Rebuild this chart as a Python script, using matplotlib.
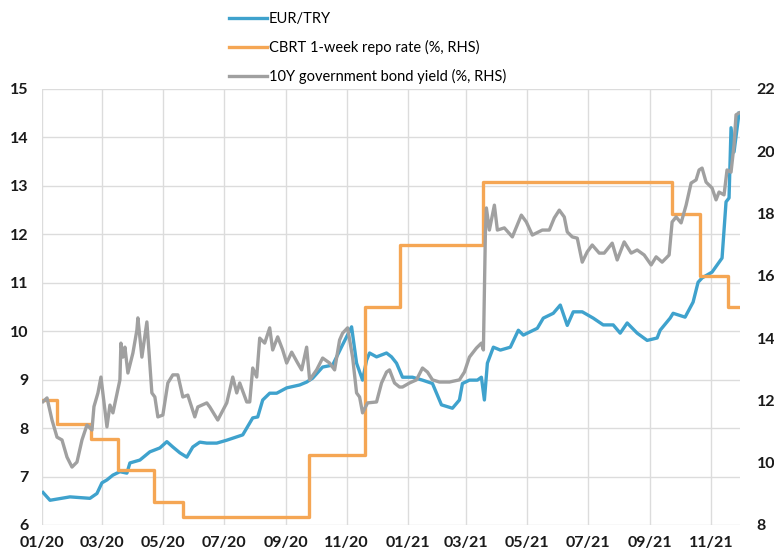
import matplotlib
matplotlib.use("Agg")
import matplotlib.pyplot as plt
import matplotlib.dates as mdates
import pandas as pd

plt.rcParams["font.family"] = ["Lato", "DejaVu Sans"]

# EUR/TRY (left axis)
eur_dates = ["2020-01-02", "2020-01-09", "2020-01-29", "2020-02-18", "2020-02-25",
             "2020-03-01", "2020-03-06", "2020-03-12", "2020-03-19", "2020-03-26",
             "2020-03-29", "2020-04-08", "2020-04-18", "2020-04-28", "2020-05-05",
             "2020-05-11", "2020-05-18", "2020-05-25", "2020-05-31", "2020-06-07",
             "2020-06-14", "2020-06-24", "2020-07-04", "2020-07-20", "2020-07-30",
             "2020-08-04", "2020-08-09", "2020-08-16", "2020-08-23", "2020-09-02",
             "2020-09-15", "2020-09-22", "2020-09-28", "2020-10-08", "2020-10-18",
             "2020-10-28", "2020-11-06", "2020-11-11", "2020-11-17", "2020-11-21",
             "2020-11-24", "2020-12-01", "2020-12-11", "2020-12-16", "2020-12-21",
             "2020-12-27", "2021-01-06", "2021-01-16", "2021-01-26", "2021-02-04",
             "2021-02-15", "2021-02-22", "2021-02-25", "2021-03-04", "2021-03-12",
             "2021-03-16", "2021-03-19", "2021-03-22", "2021-03-28", "2021-04-04",
             "2021-04-14", "2021-04-22", "2021-04-27", "2021-05-11", "2021-05-17",
             "2021-05-27", "2021-06-03", "2021-06-10", "2021-06-16", "2021-06-25",
             "2021-07-06", "2021-07-16", "2021-07-26", "2021-08-02", "2021-08-09",
             "2021-08-19", "2021-08-29", "2021-09-08", "2021-09-11", "2021-09-21",
             "2021-09-24", "2021-10-06", "2021-10-14", "2021-10-19", "2021-10-23",
             "2021-11-02", "2021-11-12", "2021-11-16", "2021-11-19", "2021-11-21",
             "2021-11-24", "2021-11-29"]
eur_try = [6.67, 6.51, 6.58, 6.55, 6.65,
           6.87, 6.93, 7.03, 7.10, 7.07,
           7.28, 7.34, 7.51, 7.59, 7.72,
           7.61, 7.49, 7.40, 7.61, 7.71,
           7.69, 7.69, 7.75, 7.86, 8.21,
           8.23, 8.58, 8.72, 8.72, 8.83,
           8.89, 8.95, 9.03, 9.26, 9.30,
           9.72, 10.09, 9.34, 8.99, 9.40,
           9.55, 9.47, 9.55, 9.47, 9.34,
           9.05, 9.05, 8.99, 8.92, 8.48,
           8.41, 8.58, 8.92, 8.99, 8.99,
           9.05, 8.58, 9.34, 9.67, 9.61,
           9.67, 10.02, 9.92, 10.06, 10.27,
           10.37, 10.54, 10.12, 10.40, 10.40,
           10.27, 10.13, 10.13, 9.96, 10.17,
           9.96, 9.81, 9.86, 10.02, 10.27,
           10.37, 10.29, 10.60, 11.01, 11.10,
           11.22, 11.51, 12.67, 12.75, 14.20,
           13.70, 14.50]

# CBRT 1-week repo rate (right axis)
repo_dates = ["2020-01-01", "2020-01-16", "2020-02-19", "2020-03-17", "2020-04-22",
              "2020-05-21", "2020-09-24", "2020-11-19", "2020-12-24", "2021-03-18",
              "2021-09-23", "2021-10-21", "2021-11-18", "2021-11-30"]
repo_rate = [12.0, 11.25, 10.75, 9.75, 8.75,
             8.25, 10.25, 15.0, 17.0, 19.0,
             18.0, 16.0, 15.0, 15.0]

# 10Y government bond yield (right axis)
bond_dates = ["2020-01-02", "2020-01-06", "2020-01-11", "2020-01-16", "2020-01-21",
              "2020-01-26", "2020-01-31", "2020-02-05", "2020-02-10", "2020-02-15",
              "2020-02-20", "2020-02-22", "2020-02-26", "2020-02-29", "2020-03-06",
              "2020-03-09", "2020-03-12", "2020-03-19", "2020-03-20", "2020-03-22",
              "2020-03-24", "2020-03-27", "2020-04-01", "2020-04-05", "2020-04-06",
              "2020-04-10", "2020-04-15", "2020-04-20", "2020-04-23", "2020-04-26",
              "2020-05-01", "2020-05-06", "2020-05-11", "2020-05-16", "2020-05-21",
              "2020-05-26", "2020-06-02", "2020-06-05", "2020-06-14", "2020-06-17",
              "2020-06-25", "2020-07-04", "2020-07-10", "2020-07-14", "2020-07-17",
              "2020-07-24", "2020-07-27", "2020-07-30", "2020-08-03", "2020-08-06",
              "2020-08-11", "2020-08-16", "2020-08-19", "2020-08-24", "2020-08-29",
              "2020-09-02", "2020-09-07", "2020-09-13", "2020-09-17", "2020-09-22",
              "2020-09-25", "2020-10-02", "2020-10-08", "2020-10-15", "2020-10-20",
              "2020-10-25", "2020-10-28", "2020-11-02", "2020-11-07", "2020-11-11",
              "2020-11-14", "2020-11-17", "2020-11-22", "2020-12-01", "2020-12-06",
              "2020-12-11", "2020-12-14", "2020-12-19", "2020-12-24", "2020-12-27",
              "2021-01-03", "2021-01-10", "2021-01-16", "2021-01-21", "2021-01-26",
              "2021-02-02", "2021-02-12", "2021-02-22", "2021-02-27", "2021-03-04",
              "2021-03-11", "2021-03-16", "2021-03-18", "2021-03-20", "2021-03-21",
              "2021-03-24", "2021-03-29", "2021-04-01", "2021-04-08", "2021-04-16",
              "2021-04-25", "2021-04-30", "2021-05-06", "2021-05-16", "2021-05-23",
              "2021-05-28", "2021-06-02", "2021-06-07", "2021-06-10", "2021-06-15",
              "2021-06-20", "2021-06-25", "2021-06-30", "2021-07-05", "2021-07-12",
              "2021-07-17", "2021-07-25", "2021-07-30", "2021-08-06", "2021-08-13",
              "2021-08-19", "2021-08-26", "2021-09-02", "2021-09-07", "2021-09-13",
              "2021-09-20", "2021-09-23", "2021-09-27", "2021-10-02", "2021-10-07",
              "2021-10-12", "2021-10-17", "2021-10-20", "2021-10-23", "2021-10-27",
              "2021-11-02", "2021-11-06", "2021-11-09", "2021-11-14", "2021-11-17",
              "2021-11-21", "2021-11-24", "2021-11-26", "2021-11-29"]
bond_yield = [11.96, 12.08, 11.37, 10.82, 10.73,
              10.18, 9.86, 10.02, 10.73, 11.21,
              11.05, 11.80, 12.24, 12.75, 11.15,
              11.85, 11.60, 12.66, 13.84, 13.39,
              13.71, 12.88, 13.52, 14.26, 14.65,
              13.39, 14.52, 12.24, 12.11, 11.47,
              11.53, 12.56, 12.82, 12.82, 12.11,
              12.17, 11.47, 11.79, 11.92, 11.79,
              11.37, 11.92, 12.75, 12.24, 12.56,
              11.95, 11.95, 13.04, 12.75, 14.00,
              13.84, 14.33, 13.62, 14.04, 13.62,
              13.20, 13.55, 13.20, 12.98, 13.71,
              12.66, 12.98, 13.36, 13.20, 12.98,
              13.94, 14.16, 14.33, 13.39, 12.24,
              12.11, 11.60, 11.92, 11.95, 12.56,
              12.91, 12.98, 12.56, 12.43, 12.43,
              12.56, 12.66, 13.04, 12.91, 12.66,
              12.59, 12.59, 12.66, 12.91, 13.39,
              13.68, 13.84, 13.62, 17.38, 18.18,
              17.47, 18.27, 17.47, 17.54, 17.25,
              17.95, 17.73, 17.31, 17.47, 17.47,
              17.86, 18.11, 17.89, 17.41, 17.25,
              17.21, 16.44, 16.77, 16.99, 16.73,
              16.73, 17.05, 16.51, 17.09, 16.73,
              16.83, 16.67, 16.35, 16.61, 16.44,
              16.67, 17.73, 17.89, 17.70, 18.27,
              18.98, 19.08, 19.40, 19.46, 19.01,
              18.82, 18.44, 18.69, 18.60, 19.40,
              19.33, 20.20, 21.17, 21.23]

blue = "#3fa2cd"
orange = "#f5a654"
gray = "#a0a0a0"

fig = plt.figure(figsize=(7.74, 5.5), dpi=100)
ax = fig.add_axes([0.0543, 0.0455, 0.9018, 0.7927])
ax2 = ax.twinx()

l1, = ax.plot(pd.to_datetime(eur_dates), eur_try, color=blue, lw=2.4,
              label="EUR/TRY")
l2, = ax2.plot(pd.to_datetime(repo_dates), repo_rate, color=orange, lw=2.4,
               drawstyle="steps-post", label="CBRT 1-week repo rate (%, RHS)")
l3, = ax2.plot(pd.to_datetime(bond_dates), bond_yield, color=gray, lw=2.4,
               label="10Y government bond yield (%, RHS)")

ax.set_xlim(pd.Timestamp("2020-01-01"), pd.Timestamp("2021-11-30"))
ax.set_ylim(6, 15)
ax2.set_ylim(8, 22)
ax.set_yticks(range(6, 16))
ax2.set_yticks(range(8, 23, 2))

ax.xaxis.set_major_locator(mdates.MonthLocator(bymonth=[1, 3, 5, 7, 9, 11]))
ax.xaxis.set_major_formatter(mdates.DateFormatter("%m/%y"))

ax.grid(True, color="#dcdcdc", lw=1)
for a in (ax, ax2):
    for s in a.spines.values():
        s.set_visible(False)
    a.tick_params(length=0, labelsize=11.5, colors="#1a1a1a")
    for lab in a.get_xticklabels() + a.get_yticklabels():
        lab.set_fontweight("bold")
ax.tick_params(axis="x", pad=8)
ax.tick_params(axis="y", pad=10)
ax2.tick_params(axis="y", pad=12)

fig.legend(handles=[l1, l2, l3], loc="upper left",
           bbox_to_anchor=(0.288, 0.988), frameon=False, fontsize=10.5,
           handlelength=2.6, handletextpad=0.15, labelspacing=0.95,
           borderaxespad=0)

fig.savefig("out.png", dpi=100)
